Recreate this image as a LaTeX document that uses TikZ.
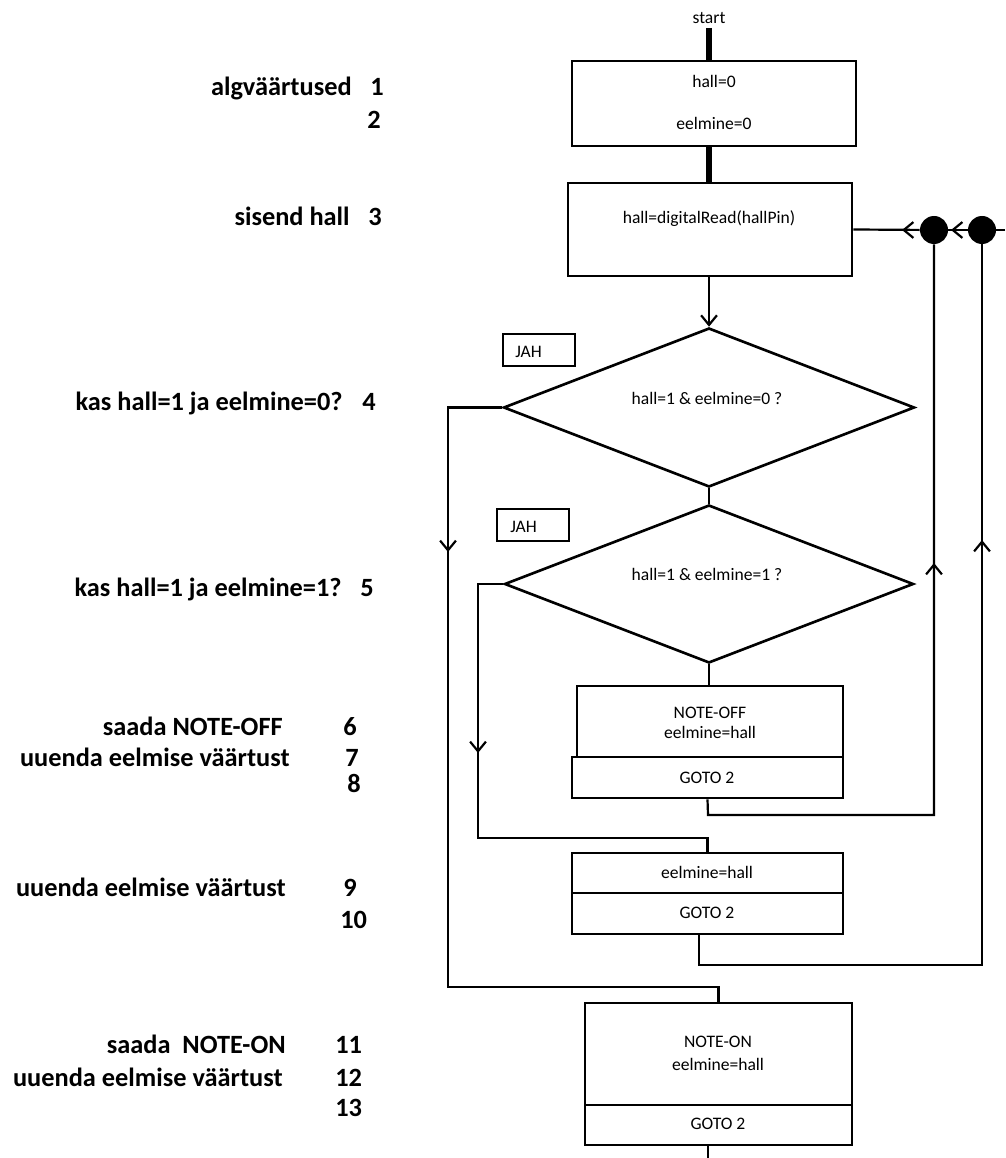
\documentclass[tikz,border=0pt]{standalone}
\usepackage{fontspec}
\setmainfont{Carlito}
\usetikzlibrary{arrows.meta,shapes.geometric}
\begin{document}
\begin{tikzpicture}[x=0.02cm,y=-0.02cm,
  conn/.style={line width=1.25pt},
  thickconn/.style={line width=3pt},
  arr/.style={line width=1.25pt,-{Straight Barb[length=5.5pt,width=9pt]}},
  wh/.style n args={2}{minimum width=#1*0.02cm,minimum height=#2*0.02cm},
  box/.style={draw,line width=1.6pt,inner sep=0pt,rectangle},
  dia/.style={draw,line width=1.5pt,inner sep=0pt,diamond},
  dot/.style={circle,fill=black,inner sep=0pt,minimum size=28*0.02cm},
  txt/.style={font=\fontsize{10}{12}\selectfont,inner sep=0pt,text height=6.5pt,text depth=0pt},
  lbl/.style={font=\fontsize{15}{18}\selectfont\bfseries,inner sep=0pt,text height=9.7pt,text depth=0pt},
  lblr/.style={lbl,anchor=east},
  lbll/.style={lbl,anchor=west}]
\useasboundingbox (0,0) rectangle (1005,1158);

% flowchart shapes
\node[txt] (start) at (709,18) {start};
\node[box,wh={284}{85}] (b1) at (714,103.5) {};
\node[box,wh={284}{93}] (b2) at (710,229.5) {};
\node[dia,wh={411}{159}] (d1) at (709,407.5) {};
\node[dia,wh={409}{158}] (d2) at (709,584) {};
\node[box,wh={266}{71}] (noff) at (710,721.5) {};
\node[box,wh={271}{41}] (g1) at (707.5,777.5) {};
\node[box,wh={271}{40}] (b3) at (707.5,873) {};
\node[box,wh={271}{41}] (g2) at (707.5,913.5) {};
\node[box,wh={267}{102}] (non) at (718.5,1054) {};
\node[box,wh={267}{40}] (g3) at (718.5,1125) {};
\node[draw,line width=1.1pt,inner sep=0pt,wh={72}{32}] (jah1) at (539,350) {};
\node[draw,line width=1.1pt,inner sep=0pt,wh={72}{32}] (jah2) at (533,525) {};
\node[dot] (k1) at (934,230) {};
\node[dot] (k2) at (982,230) {};

% texts inside shapes
\node[txt] (t1a) at (714,82) {hall=0};
\node[txt] (t1b) at (714,124) {eelmine=0};
\node[txt] (t2) at (709,218) {hall=digitalRead(hallPin)};
\node[txt] (td1) at (707,399) {hall=1 \& eelmine=0 ?};
\node[txt] (td2) at (707,575) {hall=1 \& eelmine=1 ?};
\node[txt] (toffa) at (710,713) {NOTE-OFF};
\node[txt] (toffb) at (710,733) {eelmine=hall};
\node[txt] (tg1) at (707,778) {GOTO 2};
\node[txt] (tb3) at (707,873) {eelmine=hall};
\node[txt] (tg2) at (707,913) {GOTO 2};
\node[txt] (tona) at (718,1042) {NOTE-ON};
\node[txt] (tonb) at (718,1065) {eelmine=hall};
\node[txt] (tg3) at (718,1124) {GOTO 2};
\node[txt,anchor=west] (tj1) at (515,352) {JAH};
\node[txt,anchor=west] (tj2) at (510,527) {JAH};

% coordinates
\coordinate (c0) at (709,28);
\coordinate (c1) at (448,987);
\coordinate (c2) at (478,838);
\coordinate (c3) at (708,815);
\coordinate (c4) at (699,965);
\coordinate (edge) at (1005,230);
\coordinate (bot) at (708,1158);
\coordinate (a1) at (448,552);
\coordinate (a1s) at (448,535);
\coordinate (a2) at (478,753);
\coordinate (a2s) at (478,736);
\coordinate (a3) at (934,563);
\coordinate (a3s) at (934,580);
\coordinate (a4) at (982,540);
\coordinate (a4s) at (982,557);
\coordinate (a5) at (902,230);
\coordinate (a5s) at (918,230);
\coordinate (a6) at (951,230);
\coordinate (a6s) at (962,230);

% connectors
\draw[thickconn] (c0) -- (c0 |- b1.north);
\draw[thickconn] (b1.south -| c0) -- (b2.north -| c0);
\draw[arr] (d1.north |- b2.south) -- (d1.north);
\draw[conn] (d1.south) -- (d2.north);
\draw[conn] (d2.south) -- (d2.south |- noff.north);
\draw[conn] (d1.west) -| (c1) -| (non.north);
\draw[conn] (d2.west) -| (c2) -| (b3.north);
\draw[conn] (g1.south) -- (c3) -| (k1);
\draw[conn] (g2.south -| c4) -- (c4) -| (k2);
\draw[conn] (k1) -- (b2.east);
\draw[conn] (k2) -- (k1);
\draw[conn] (edge) -- (k2);
\draw[conn] (g3.south -| bot) -- (bot);

% mid-line arrowheads
\draw[arr] (a1s) -- (a1);
\draw[arr] (a2s) -- (a2);
\draw[arr] (a3s) -- (a3);
\draw[arr] (a4s) -- (a4);
\draw[arr] (a5s) -- (a5);
\draw[arr] (a6s) -- (a6);

% left labels
\node[lblr] (l1) at (352,87) {algväärtused};
\node[lbll] (n1) at (370,87) {1};
\node[lbll] (n2) at (367,120) {2};
\node[lblr] (l3) at (350,217) {sisend hall};
\node[lbll] (n3) at (368,217) {3};
\node[lblr] (l4) at (343,402) {kas hall=1 ja eelmine=0?};
\node[lbll] (n4) at (362,402) {4};
\node[lblr] (l5) at (342,588) {kas hall=1 ja eelmine=1?};
\node[lbll] (n5) at (360,588) {5};
\node[lblr] (l6) at (283,727) {saada NOTE-OFF};
\node[lbll] (n6) at (343,727) {6};
\node[lblr] (l7) at (290,758) {uuenda eelmise väärtust};
\node[lbll] (n7) at (345,758) {7};
\node[lbll] (n8) at (347,784) {8};
\node[lblr] (l9) at (286,888) {uuenda eelmise väärtust};
\node[lbll] (n9) at (343,888) {9};
\node[lbll] (n10) at (340,920) {10};
\node[lblr] (l11) at (286,1045) {saada\ \ NOTE-ON};
\node[lbll] (n11) at (335,1045) {11};
\node[lblr] (l12) at (283,1078) {uuenda eelmise väärtust};
\node[lbll] (n12) at (335,1078) {12};
\node[lbll] (n13) at (335,1108) {13};
\end{tikzpicture}
\end{document}
